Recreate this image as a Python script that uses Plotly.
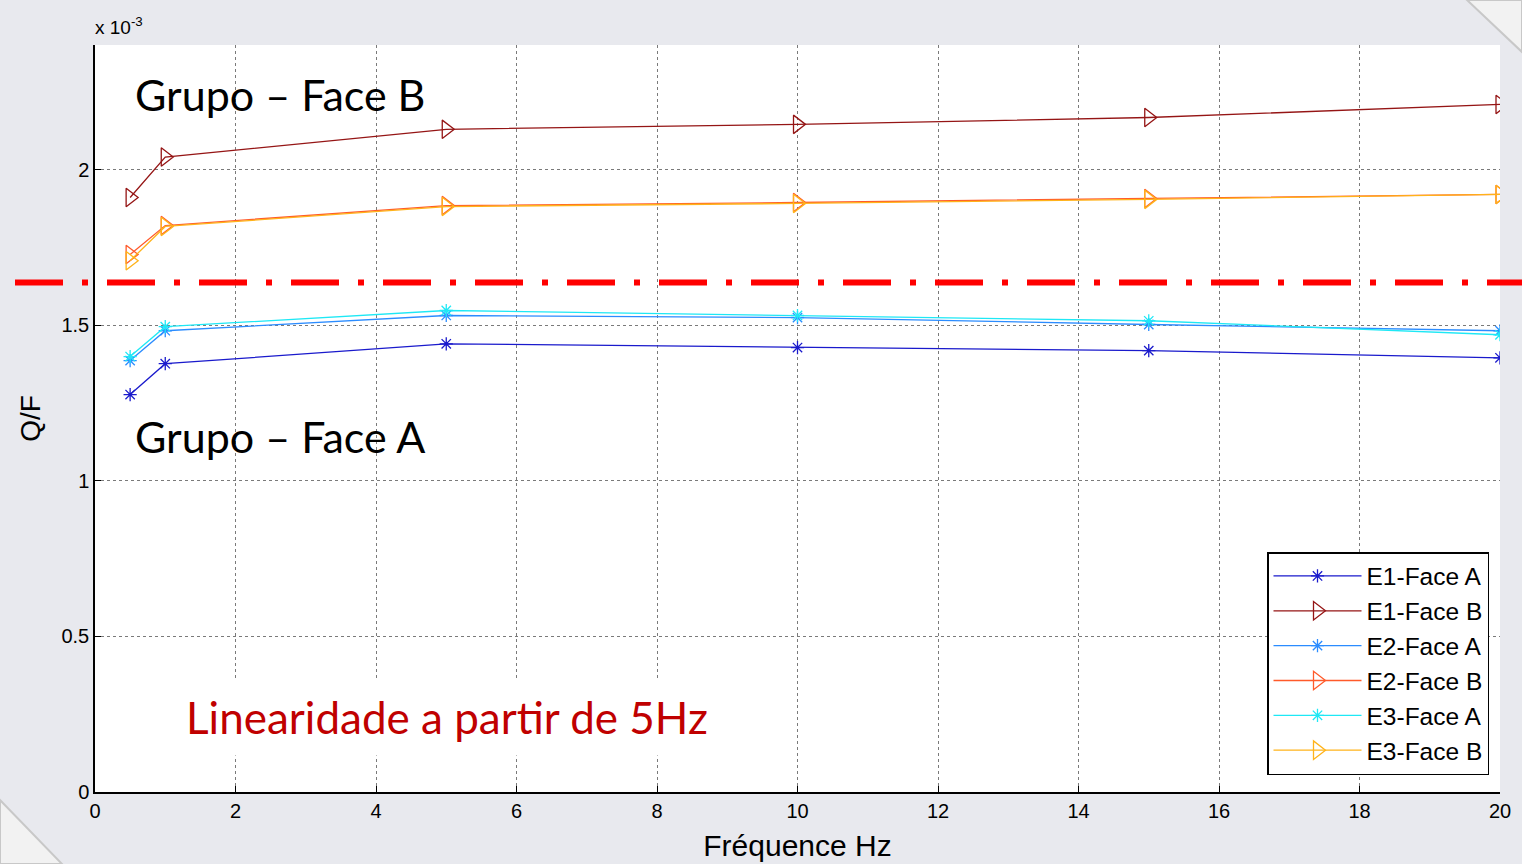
import plotly.graph_objects as go

# Frequencies (Hz)
freq = [0.5, 1, 5, 10, 15, 20]

# Q/F values (x 10^-3)
e1_face_a = [1.277, 1.376, 1.440, 1.428, 1.418, 1.395]
e1_face_b = [1.910, 2.040, 2.129, 2.145, 2.167, 2.209]
e2_face_a = [1.386, 1.482, 1.531, 1.524, 1.502, 1.482]
e2_face_b = [1.727, 1.820, 1.884, 1.894, 1.907, 1.920]
e3_face_a = [1.399, 1.495, 1.547, 1.531, 1.514, 1.469]
e3_face_b = [1.707, 1.817, 1.881, 1.891, 1.904, 1.920]

threshold = 1.637

x_ticks = [0, 2, 4, 6, 8, 10, 12, 14, 16, 18, 20]
y_ticks = [0, 0.5, 1, 1.5, 2]
y_tick_labels = ["0", "0.5", "1", "1.5", "2"]

series = [
    ("E1-Face A", e1_face_a, "#1a1acc", "asterisk-open", 11),
    ("E1-Face B", e1_face_b, "#951515", "triangle-right-open", 16),
    ("E2-Face A", e2_face_a, "#2b8cff", "asterisk-open", 11),
    ("E2-Face B", e2_face_b, "#ff5a2a", "triangle-right-open", 16),
    ("E3-Face A", e3_face_a, "#1ee8f5", "asterisk-open", 11),
    ("E3-Face B", e3_face_b, "#ffb31a", "triangle-right-open", 16),
]

W, H = 1522, 864
L, R, T, B = 95, 22, 45, 72
PW, PH = W - L - R, H - T - B


def px(x):
    return (x - L) / PW


def py(y):
    return (H - B - y) / PH


fig = go.Figure()
for name, vals, color, sym, size in series:
    fig.add_trace(go.Scatter(
        x=freq, y=vals, name=name, mode="lines+markers",
        line=dict(color=color, width=1.3),
        marker=dict(symbol=sym, size=size, color=color,
                    line=dict(color=color, width=1.3)),
    ))

shapes = [
    # slide corner decorations
    dict(type="path", xref="paper", yref="paper",
         path=f"M {px(1467)} {py(0)} L {px(1522)} {py(0)} L {px(1522)} {py(52)} Z",
         fillcolor="#f2f2f2", line=dict(color="#c8c8c8", width=2), layer="below"),
    dict(type="path", xref="paper", yref="paper",
         path=f"M {px(0)} {py(800)} L {px(62)} {py(864)} L {px(0)} {py(864)} Z",
         fillcolor="#f2f2f2", line=dict(color="#c8c8c8", width=2), layer="below"),
    # red dash-dot threshold line across the slide
    dict(type="line", xref="paper", yref="y",
         x0=px(15), x1=px(1522), y0=threshold, y1=threshold,
         line=dict(color="#ff0000", width=6, dash="48px,19px,6px,19px")),
]

annotations = [
    dict(text="x 10<sup>-3</sup>", xref="paper", yref="paper",
         x=px(93), y=py(26), xanchor="left", yanchor="middle", showarrow=False,
         font=dict(family="Liberation Sans, Arial", size=19, color="black")),
    dict(text="Grupo – Face B", xref="paper", yref="paper",
         x=px(133), y=py(94), xanchor="left", yanchor="middle", showarrow=False,
         font=dict(family="Lato", size=43, color="black")),
    dict(text="Grupo – Face A", xref="paper", yref="paper",
         x=px(133), y=py(436), xanchor="left", yanchor="middle", showarrow=False,
         font=dict(family="Lato", size=43, color="black")),
    dict(text="Linearidade a partir de 5Hz", xref="paper", yref="paper",
         x=px(447), y=py(717), xanchor="center", yanchor="middle", showarrow=False,
         bgcolor="white", borderpad=12,
         font=dict(family="Lato", size=44, color="#c00000")),
]

fig.update_layout(
    width=W, height=H,
    margin=dict(l=L, r=R, t=T, b=B),
    paper_bgcolor="#e8e9ee",
    plot_bgcolor="white",
    font=dict(family="Liberation Sans, Arial", size=20, color="black"),
    shapes=shapes,
    annotations=annotations,
    legend=dict(
        x=px(1489), y=py(775), xanchor="right", yanchor="bottom",
        bgcolor="white", bordercolor="black", borderwidth=1.5,
        font=dict(family="Liberation Sans, Arial", size=24.5, color="black"),
        itemwidth=88, tracegroupgap=0,
    ),
    xaxis=dict(
        range=[0, 20], tickvals=x_ticks, ticks="inside", ticklen=6,
        tickcolor="black", showline=True, linecolor="black", linewidth=1.5,
        showgrid=True, gridcolor="#7a7a7a", griddash="dot", gridwidth=1,
        zeroline=False, tickfont=dict(size=20), automargin=False,
        title=dict(text="Fréquence Hz", font=dict(size=30), standoff=14),
    ),
    yaxis=dict(
        range=[0, 2.4], tickvals=y_ticks, ticktext=y_tick_labels,
        ticks="inside", ticklen=6, tickcolor="black",
        showline=True, linecolor="black", linewidth=1.5,
        showgrid=True, gridcolor="#7a7a7a", griddash="dot", gridwidth=1,
        zeroline=False, tickfont=dict(size=20), automargin=False,
        title=dict(text="Q/F", font=dict(size=28), standoff=13),
    ),
)

fig.write_html(
    "out.html",
    config={"displayModeBar": False},
    post_script="document.body.style.margin='0';document.body.style.overflow='hidden';",
)
